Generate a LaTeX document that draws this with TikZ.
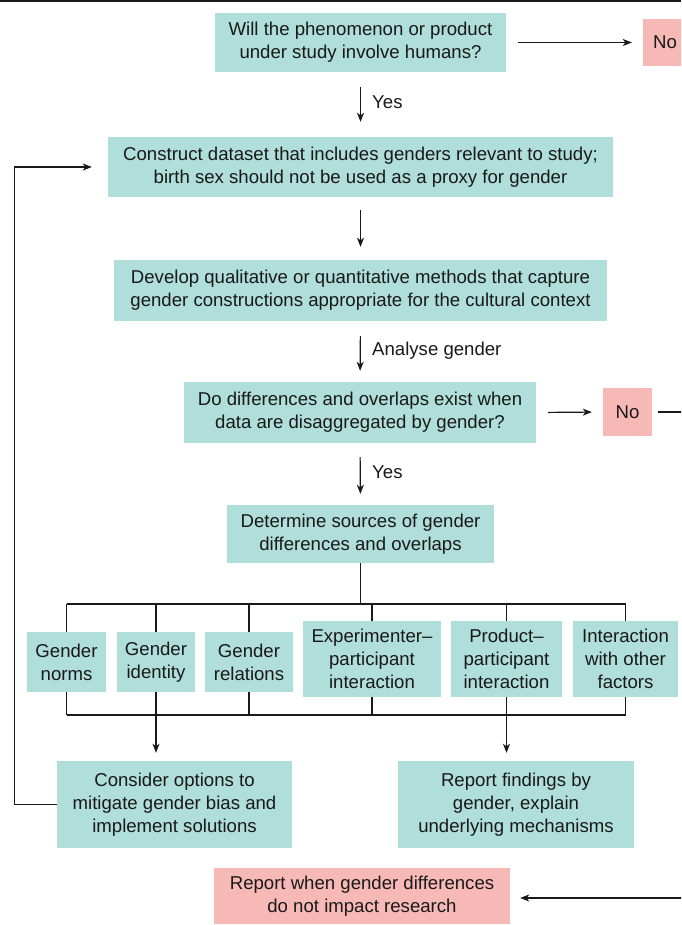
\documentclass[tikz,border=0pt]{standalone}
\usepackage{fontspec}
\setmainfont{Liberation Sans}
\usetikzlibrary{arrows.meta}
\definecolor{teal1}{RGB}{176,222,218}
\definecolor{pink1}{RGB}{247,185,181}
\definecolor{ink}{RGB}{25,25,25}
\begin{document}
\begin{tikzpicture}[x=1pt,y=-1pt,
  base/.style={align=center,inner sep=0pt,font=\fontsize{18.6}{23}\selectfont,text=ink},
  tbox/.style={base,fill=teal1},
  pbox/.style={base,fill=pink1},
  sz/.style 2 args={minimum width=#1pt,minimum height=#2pt},
  line/.style={line width=1.2pt,draw=ink},
  arr/.style={line,-{Stealth[length=9pt,width=7pt,inset=2.5pt]}},
  lbl/.style={font=\fontsize{18.6}{22}\selectfont,text=ink,anchor=west,inner sep=0pt}]
\clip (0,0) rectangle (681,925);
\fill[white] (0,0) rectangle (681,925);
\draw[line width=2pt,ink] (0,1) -- (681,1);

% main column
\node[tbox,sz={291}{59}] (b1) at (360.5,42.5) {Will the phenomenon or product\\under study involve humans?};
\node[pbox,sz={44}{47}] (no1) at (665,42.5) {No};
\node[tbox,sz={505}{60}] (b2) at (360.5,167) {Construct dataset that includes genders relevant to study;\\birth sex should not be used as a proxy for gender};
\node[tbox,sz={493}{61}] (b3) at (360.5,290.5) {Develop qualitative or quantitative methods that capture\\gender constructions appropriate for the cultural context};
\node[tbox,sz={352}{61}] (b4) at (360,412.5) {Do differences and overlaps exist when\\data are disaggregated by gender?};
\node[pbox,sz={49}{48}] (no2) at (627.5,412) {No};
\node[tbox,sz={267}{58}] (b5) at (360.5,534) {Determine sources of gender\\differences and overlaps};

% sources
\node[tbox,sz={79}{60}] (g1) at (66.5,662) {Gender\\norms};
\node[tbox,sz={78}{60}] (g2) at (156,662) {Gender\\identity};
\node[tbox,sz={88}{60}] (g3) at (249,662) {Gender\\relations};
\node[tbox,sz={138}{76}] (g4) at (372,659) {Experimenter–\\participant\\interaction};
\node[tbox,sz={111}{76}] (g5) at (506.5,659) {Product–\\participant\\interaction};
\node[tbox,sz={105}{76}] (g6) at (625.5,659) {Interaction\\with other\\factors};

% outcomes
\node[tbox,sz={235}{87}] (c1) at (174.5,804.5) {Consider options to\\mitigate gender bias and\\implement solutions};
\node[tbox,sz={236}{87}] (c2) at (516,804.5) {Report findings by\\gender, explain\\underlying mechanisms};
\node[pbox,sz={296}{56}] (rw) at (362,896) {Report when gender differences\\do not impact research};

% labels
\node[lbl] (l1) at (372,102) {Yes};
\node[lbl] (l2) at (372,351) {Analyse gender};
\node[lbl] (l3) at (372,472) {Yes};

% connectors
\draw[arr,shorten <=12pt,shorten >=11pt] (b1.east) -- (no1.west);
\draw[arr,shorten <=15pt,shorten >=15pt] (b1.south) -- (b2.north);
\draw[arr,shorten <=13pt,shorten >=13pt] (b2.south) -- (b3.north);
\draw[arr,shorten <=15pt,shorten >=11pt] (b3.south) -- (b4.north);
\draw[arr,shorten <=12pt,shorten >=11pt] (b4.east) -- (no2.west);
\coordinate (re) at (690,412);
\draw[line,shorten <=6pt] (no2.east) -- (re);
\draw[arr,shorten <=14pt,shorten >=11pt] (b4.south) -- (b5.north);

% bracket
\coordinate (tl) at (66.5,604);
\coordinate (bl) at (66.5,715);
\draw[line] (b5.south) -- (b5.south |- tl);
\draw[line] (g1.north |- tl) -- (g6.north |- tl);
\draw[line] (g1.south |- bl) -- (g6.south |- bl);
\foreach \g in {g1,g2,g3,g4,g5,g6}{
  \draw[line] (\g.north |- tl) -- (\g.north);
  \draw[line] (\g.south) -- (\g.south |- bl);
}
\draw[arr,shorten >=8pt] (g2.south |- bl) -- (g2.south |- c1.north);
\draw[arr,shorten >=8pt] (g5.south |- bl) -- (g5.south |- c2.north);

% loop back
\draw[arr,shorten >=16pt] (c1.west) -- ++(-42,0) |- (b2.west);

% bottom arrow from right
\coordinate (rb) at (690,898);
\draw[arr,shorten >=10pt] (rb) -- (rb -| rw.east);
\end{tikzpicture}
\end{document}
